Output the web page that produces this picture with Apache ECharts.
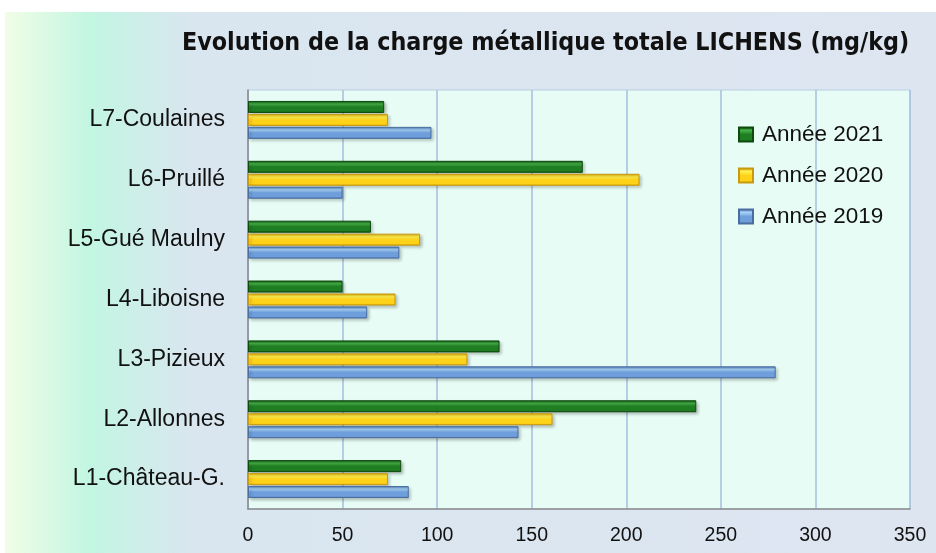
<!DOCTYPE html>
<html><head><meta charset="utf-8">
<script src="https://cdn.jsdelivr.net/npm/echarts@6/dist/echarts.min.js"></script>
<style>html,body{margin:0;padding:0;background:#fff}#c{width:936px;height:553px}</style>
</head><body><div id="c"></div>
<script>
const categories = ['L1-Château-G.', 'L2-Allonnes', 'L3-Pizieux', 'L4-Liboisne', 'L5-Gué Maulny', 'L6-Pruillé', 'L7-Coulaines'];
const xTicks = [0, 50, 100, 150, 200, 250, 300, 350];
const v2019 = [85, 143, 279, 63, 80, 50, 97];
const v2020 = [74, 161, 116, 78, 91, 207, 74];
const v2021 = [81, 237, 133, 50, 65, 177, 72];

function grad(edge, mid, light) {
  return new echarts.graphic.LinearGradient(0, 0, 0, 1, [
    {offset: 0, color: edge}, {offset: 0.25, color: light}, {offset: 0.5, color: mid},
    {offset: 0.85, color: mid}, {offset: 1, color: edge}
  ]);
}
const chart = echarts.init(document.getElementById('c'));
const mk = (name, data, edge, mid, light, border) => ({
  name, type: 'bar', data, barWidth: 12, barGap: '8%',
  itemStyle: {color: grad(edge, mid, light), borderColor: border, borderWidth: 1,
    shadowColor: 'rgba(0,0,0,0.25)', shadowBlur: 3, shadowOffsetX: 2, shadowOffsetY: 2}
});
chart.setOption({
  animation: false,
  graphic: [{type: 'rect', left: 5, top: 12, shape: {width: 931, height: 541}, z: -10,
    style: {fill: new echarts.graphic.LinearGradient(0, 0, 1, 0, [
      {offset: 0, color: '#f2fde6'}, {offset: 0.09, color: '#c2f6e2'},
      {offset: 0.2, color: '#d9e6ef'}, {offset: 1, color: '#dde5f1'}])}}],
  title: {text: 'Evolution de la charge métallique totale LICHENS (mg/kg)', left: 177, top: 26,
    textStyle: {fontFamily: 'DejaVu Sans Condensed', fontWeight: 'bold', fontSize: 24.8, color: '#111'}},
  legend: {orient: 'vertical', left: 733, top: 118, itemWidth: 14, itemHeight: 14, itemGap: 18, icon: 'rect',
    data: ['Année 2021', 'Année 2020', 'Année 2019'],
    textStyle: {fontFamily: 'Liberation Sans', fontSize: 22.5, color: '#111', padding: [0, 0, 0, 4]}},
  grid: {left: 248, right: 26, top: 90, bottom: 44, show: true, backgroundColor: '#e6fcf4', borderColor: '#b8cce4', borderWidth: 1},
  xAxis: {type: 'value', min: 0, max: 350, interval: 50,
    axisLine: {show: true, lineStyle: {color: '#8c8c8c', width: 1.5}}, axisTick: {show: false},
    splitLine: {lineStyle: {color: '#a4bfe2', width: 1.5}},
    axisLabel: {fontFamily: 'Liberation Sans', fontSize: 19.5, color: '#111', margin: 17,
      formatter: v => xTicks.includes(v) ? String(v) : ''}},
  yAxis: {type: 'category', data: categories,
    axisLine: {show: true, lineStyle: {color: '#8c8c8c', width: 1.5}}, axisTick: {show: false},
    axisLabel: {fontFamily: 'Liberation Sans', fontSize: 23, color: '#111', margin: 23}},
  series: [
    mk('Année 2021', v2021, '#0b4f0b', '#1f7d22', '#45b048', '#0e4a0e'),
    mk('Année 2020', v2020, '#d9a000', '#ffd21a', '#fff04e', '#c99a10'),
    mk('Année 2019', v2019, '#4a74b0', '#6e9edb', '#a6d2f8', '#4a6ea0')
  ]
});
</script></body></html>
